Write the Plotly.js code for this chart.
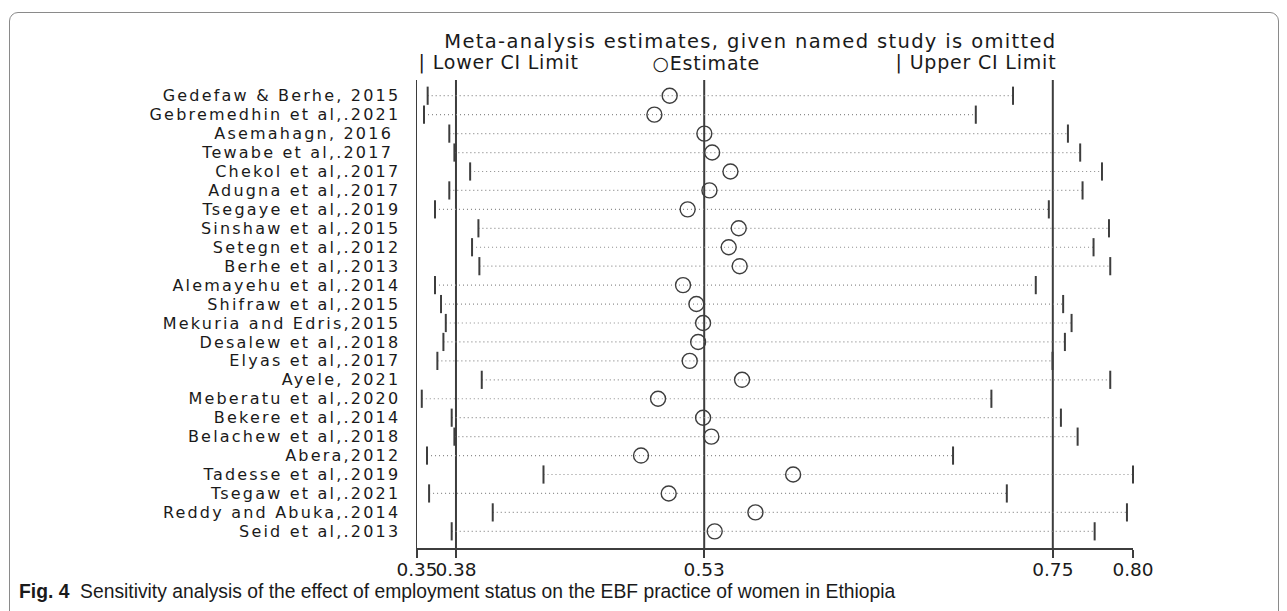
<!DOCTYPE html>
<html>
<head>
<meta charset="utf-8">
<script src="https://cdn.plot.ly/plotly-3.0.1.min.js"></script>
<style>
  html, body { margin: 0; padding: 0; background: #fff; }
  #wrap { position: relative; width: 1287px; height: 611px; overflow: hidden; }
  #chart { position: absolute; left: 0; top: 0; width: 1287px; height: 611px; }
  #frame { position: absolute; left: 9px; top: 12px; width: 1268px; height: 700px;
           border: 1.5px solid #8a8a8a; border-radius: 9px; pointer-events: none; }
</style>
</head>
<body>
<div id="wrap">
  <div id="chart"></div>
  <div id="frame"></div>
</div>
<script>
// ---- data ----
const studies = [
  "Gedefaw & Berhe, 2015", "Gebremedhin et al,.2021", "Asemahagn, 2016\u00a0", "Tewabe et al,.2017\u00a0",
  "Chekol et al,.2017", "Adugna et al,.2017", "Tsegaye et al,.2019", "Sinshaw et al,.2015",
  "Setegn et al,.2012", "Berhe et al,.2013", "Alemayehu et al,.2014", "Shifraw et al,.2015",
  "Mekuria and Edris,2015", "Desalew et al,.2018", "Elyas et al,.2017", "Ayele, 2021",
  "Meberatu et al,.2020", "Bekere et al,.2014", "Belachew et al,.2018", "Abera,2012",
  "Tadesse et al,.2019", "Tsegaw et al,.2021", "Reddy and Abuka,.2014", "Seid et al,.2013"
];
const lowerCI = [0.3567, 0.3544, 0.3703, 0.3735, 0.3834, 0.3703, 0.3613, 0.3886, 0.3846, 0.3892, 0.3613, 0.3651,
                 0.3681, 0.3666, 0.3628, 0.3907, 0.3530, 0.3718, 0.3735, 0.3563, 0.4295, 0.3576, 0.3976, 0.3718];
const estimate = [0.5088, 0.4992, 0.5306, 0.5355, 0.5470, 0.5338, 0.5201, 0.5522, 0.5459, 0.5528, 0.5172, 0.5256,
                  0.5298, 0.5267, 0.5214, 0.5543, 0.5015, 0.5298, 0.5350, 0.4908, 0.5864, 0.5082, 0.5627, 0.5371];
const upperCI = [0.7246, 0.7012, 0.7591, 0.7668, 0.7805, 0.7683, 0.7471, 0.7849, 0.7752, 0.7857, 0.7389, 0.7561,
                 0.7614, 0.7572, 0.7494, 0.7857, 0.7110, 0.7547, 0.7652, 0.6869, 0.8000, 0.7207, 0.7962, 0.7759];
const overallLines = [0.3745, 0.5305, 0.7496];           // combined lower CI, estimate, upper CI
const xTickVals = [0.35, 0.3745, 0.5305, 0.7496, 0.80];
const xTickText = ["0.35", "0.38", "0.53", "0.75", "0.80"];
const titleText = "Meta-analysis estimates, given named study is omitted";
const legendTexts = ["| Lower CI Limit", "\u25CBEstimate", "| Upper CI Limit"];
const captionText = "<b>Fig. 4</b>  Sensitivity analysis of the effect of employment status on the EBF practice of women in Ethiopia";

// ---- layout geometry ----
const W = 1287, H = 611;
const M = { l: 417, r: 154, t: 80, b: 63 };
const PW = W - M.l - M.r, PH = H - M.t - M.b;
const px2px = (px) => (px - M.l) / PW;            // pixel -> paper x
const py2py = (py) => (H - M.b - py) / PH;        // pixel -> paper y

const idx = studies.map((_, i) => i);
const DARK = "#3d3d3d";
const FONT = "DejaVu Sans";

// dotted CI lines
const lx = [], ly = [];
idx.forEach(i => { lx.push(lowerCI[i], upperCI[i], null); ly.push(i, i, null); });

const traces = [
  { x: lx, y: ly, mode: "lines", line: { color: "#8c8c8c", width: 1.2, dash: "1px,3px" },
    hoverinfo: "skip", showlegend: false },
  { x: lowerCI, y: idx, mode: "markers", marker: { symbol: "line-ns", size: 13, line: { color: DARK, width: 2 } },
    showlegend: false, cliponaxis: false },
  { x: upperCI, y: idx, mode: "markers", marker: { symbol: "line-ns", size: 13, line: { color: DARK, width: 2 } },
    showlegend: false, cliponaxis: false },
  { x: estimate, y: idx, mode: "markers",
    marker: { symbol: "circle-open", size: 15, color: DARK, line: { color: DARK, width: 1.4 } },
    showlegend: false, cliponaxis: false }
];

const shapes = overallLines.map(v => ({
  type: "line", xref: "x", yref: "paper", x0: v, x1: v, y0: 0, y1: 1,
  line: { color: DARK, width: 2 }, layer: "below"
}));

const annotations = [
  { text: titleText, xref: "paper", yref: "paper", x: px2px(750), y: py2py(41),
    xanchor: "center", yanchor: "middle", showarrow: false, font: { family: FONT, size: 19.5, color: "#1a1a1a" } },
  { text: legendTexts[0], xref: "paper", yref: "paper", x: px2px(423), y: py2py(63),
    xanchor: "left", yanchor: "middle", showarrow: false, font: { family: FONT, size: 19, color: "#1a1a1a" } },
  { text: legendTexts[1], xref: "paper", yref: "paper", x: px2px(654), y: py2py(63),
    xanchor: "left", yanchor: "middle", showarrow: false, font: { family: FONT, size: 19, color: "#1a1a1a" } },
  { text: legendTexts[2], xref: "paper", yref: "paper", x: px2px(900), y: py2py(63),
    xanchor: "left", yanchor: "middle", showarrow: false, font: { family: FONT, size: 19, color: "#1a1a1a" } },
  { text: captionText, xref: "paper", yref: "paper", x: px2px(17), y: py2py(591),
    xanchor: "left", yanchor: "middle", showarrow: false, font: { family: "Liberation Sans", size: 19.3, color: "#1a1a1a" } }
];

const layout = {
  width: W, height: H,
  margin: M,
  paper_bgcolor: "rgba(255,255,255,1)", plot_bgcolor: "rgba(255,255,255,1)",
  showlegend: false,
  xaxis: {
    range: [0.35, 0.80], showgrid: false, zeroline: false,
    showline: true, linecolor: DARK, linewidth: 1.5,
    ticks: "outside", ticklen: 8, tickwidth: 1.5, tickcolor: DARK,
    tickmode: "array", tickvals: xTickVals, ticktext: xTickText, tickangle: 0,
    ticklabelstandoff: -4,
    tickfont: { family: FONT, size: 18.5, color: "#1a1a1a" }
  },
  yaxis: {
    range: [23.88, -0.83], showgrid: false, zeroline: false,
    showline: true, linecolor: DARK, linewidth: 1.5,
    ticks: "", tickmode: "array", tickvals: idx, ticktext: studies,
    ticklabelstandoff: 12,
    tickfont: { family: FONT, size: 16, color: "#1a1a1a" }
  },
  shapes: shapes,
  annotations: annotations
};

Plotly.newPlot("chart", traces, layout, { staticPlot: true, displayModeBar: false }).then(gd => {
  // the reference's lettering is wide; widen the spacing of the real text to match
  gd.querySelectorAll(".ytick text").forEach(t => { t.style.letterSpacing = "2.2px"; });
  const ann = gd.querySelectorAll(".annotation-text");
  ann.forEach((t, i) => {
    if (i === 0) t.style.letterSpacing = "1.35px";
    else if (i < 4) t.style.letterSpacing = "0.8px";
  });
});
</script>
</body>
</html>
